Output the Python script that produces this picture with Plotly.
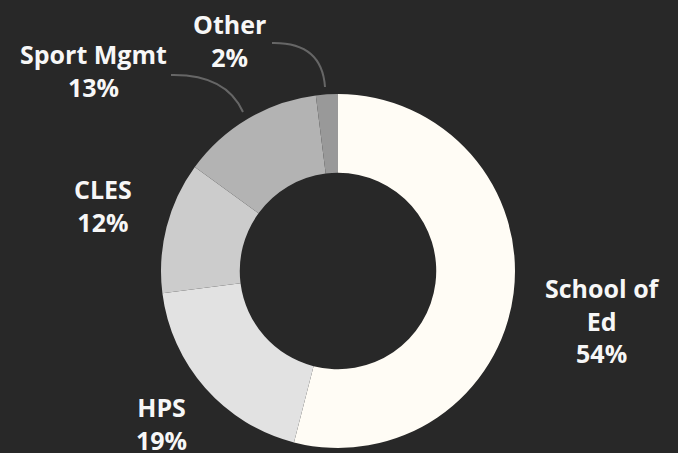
import plotly.graph_objects as go

# ---- data ----
labels = ["School of Ed", "HPS", "CLES", "Sport Mgmt", "Other"]
values = [54, 19, 12, 13, 2]
display_labels = ["School of<br>Ed", "HPS", "CLES", "Sport Mgmt", "Other"]
colors = ["#fffcf5", "#e2e2e2", "#cccccc", "#b3b3b3", "#999999"]

W, H = 678, 453
BG = "#282828"

def px(x, y):
    return x / W, 1 - y / H

# pie geometry (pixels)
cx, cy, r = 338, 271, 177

fig = go.Figure(go.Pie(
    labels=labels,
    values=values,
    sort=False,
    direction="clockwise",
    rotation=0,
    hole=0.555,
    marker=dict(colors=colors, line=dict(width=0)),
    textinfo="none",
    hoverinfo="label+percent",
    showlegend=False,
    domain=dict(x=[(cx - r) / W, (cx + r) / W], y=[(H - cy - r) / H, (H - cy + r) / H]),
))

# label positions (pixel centres)
label_pos = {
    "School of Ed": (602, 320),
    "HPS": (161, 423),
    "CLES": (103, 205),
    "Sport Mgmt": (93, 70),
    "Other": (229, 40),
}

annotations = []
for lab, disp, v in zip(labels, display_labels, values):
    x, y = px(*label_pos[lab])
    annotations.append(dict(
        x=x, y=y, xref="paper", yref="paper",
        text=f"{disp}<br>{v}%", showarrow=False,
        xanchor="center", yanchor="middle", align="center",
        font=dict(family="Open Sans", size=25, color="#f7f7f7", weight="bold"),
    ))

def curve(p0, c, p1):
    x0, y0 = px(*p0)
    xc, yc = px(*c)
    x1, y1 = px(*p1)
    return f"M {x0},{y0} Q {xc},{yc} {x1},{y1}"

shapes = [
    dict(type="path", xref="paper", yref="paper",
         path=curve((171, 75), (226, 74), (243, 112)),
         line=dict(color="#666666", width=2)),
    dict(type="path", xref="paper", yref="paper",
         path=curve((272, 43), (322, 42), (325, 87)),
         line=dict(color="#666666", width=2)),
]

fig.update_layout(
    width=W, height=H,
    margin=dict(l=0, r=0, t=0, b=0),
    paper_bgcolor=BG, plot_bgcolor=BG,
    annotations=annotations,
    shapes=shapes,
)

fig.write_html(
    "out.html",
    config={"displayModeBar": False},
    post_script="document.body.style.margin='0';document.body.style.background='%s';" % BG,
)
